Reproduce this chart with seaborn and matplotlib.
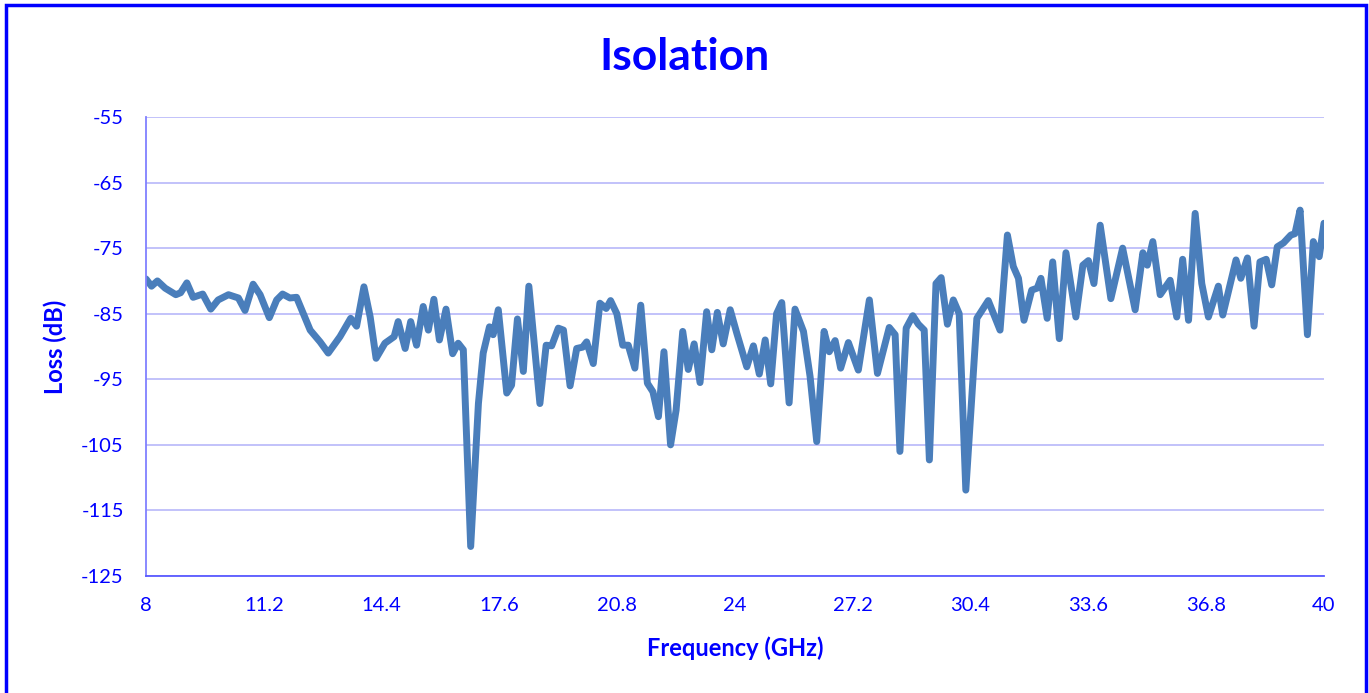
import matplotlib
matplotlib.use("Agg")
import matplotlib.pyplot as plt
from matplotlib.patches import Rectangle
import pandas as pd
import seaborn as sns

# Isolation sweep
freq_ghz = [8.00, 8.15, 8.31, 8.52, 8.81, 8.94, 9.11, 9.28, 9.54, 9.76,
            9.96, 10.24, 10.51, 10.69, 10.91, 11.10, 11.35, 11.55, 11.71, 11.91,
            12.09, 12.46, 12.73, 12.95, 13.27, 13.56, 13.72, 13.92, 14.09, 14.25,
            14.49, 14.74, 14.85, 15.04, 15.19, 15.35, 15.53, 15.67, 15.82, 15.97,
            16.15, 16.33, 16.48, 16.62, 16.82, 17.03, 17.16, 17.33, 17.43, 17.57,
            17.80, 17.93, 18.09, 18.25, 18.40, 18.70, 18.87, 19.02, 19.20, 19.34,
            19.52, 19.70, 19.86, 19.97, 20.15, 20.33, 20.50, 20.62, 20.79, 20.95,
            21.10, 21.28, 21.44, 21.62, 21.77, 21.92, 22.07, 22.25, 22.40, 22.58,
            22.73, 22.89, 23.05, 23.23, 23.37, 23.52, 23.68, 23.87, 24.05, 24.32,
            24.50, 24.66, 24.82, 24.97, 25.13, 25.27, 25.47, 25.63, 25.86, 26.04,
            26.22, 26.42, 26.56, 26.72, 26.87, 27.08, 27.35, 27.65, 27.87, 28.19,
            28.35, 28.48, 28.65, 28.83, 28.98, 29.14, 29.28, 29.46, 29.60, 29.77,
            29.93, 30.09, 30.27, 30.57, 30.88, 31.20, 31.40, 31.56, 31.70, 31.85,
            32.06, 32.21, 32.31, 32.48, 32.63, 32.81, 32.99, 33.26, 33.45, 33.60,
            33.75, 33.92, 34.21, 34.53, 34.87, 35.08, 35.20, 35.35, 35.55, 35.82,
            36.00, 36.16, 36.32, 36.50, 36.68, 36.86, 37.13, 37.25, 37.61, 37.74,
            37.92, 38.10, 38.26, 38.43, 38.58, 38.73, 38.90, 39.10, 39.21, 39.35,
            39.55, 39.71, 39.87, 40.00]
loss_db = [-79.7, -80.8, -80.0, -81.1, -82.1, -81.8, -80.3, -82.5, -82.0, -84.3,
           -82.9, -82.1, -82.6, -84.5, -80.5, -82.1, -85.6, -82.9, -82.0, -82.6,
           -82.5, -87.5, -89.3, -91.0, -88.5, -85.7, -86.9, -80.9, -85.5, -91.8,
           -89.5, -88.5, -86.2, -90.3, -86.2, -89.8, -83.9, -87.5, -82.8, -89.0,
           -84.3, -91.1, -89.5, -90.5, -120.5, -98.7, -91.0, -87.0, -88.2, -84.4,
           -97.1, -95.9, -85.8, -93.8, -80.8, -98.7, -89.8, -89.9, -87.2, -87.5,
           -96.0, -90.3, -90.1, -89.3, -92.6, -83.4, -84.2, -83.0, -85.0, -89.8,
           -89.8, -93.3, -83.7, -95.6, -96.9, -100.7, -90.8, -105.0, -99.7, -87.7,
           -93.5, -89.6, -95.5, -84.7, -90.5, -84.8, -89.6, -84.4, -88.0, -93.1,
           -89.9, -94.2, -89.0, -95.7, -85.0, -83.3, -98.6, -84.3, -87.7, -94.6,
           -104.5, -87.7, -90.8, -89.1, -93.3, -89.4, -93.6, -82.9, -94.1, -87.1,
           -88.2, -106.0, -87.2, -85.3, -86.6, -87.5, -107.3, -80.4, -79.5, -86.6,
           -82.9, -85.0, -111.9, -85.7, -83.0, -87.5, -73.0, -77.8, -79.6, -86.0,
           -81.4, -81.1, -79.6, -85.7, -77.1, -88.8, -75.7, -85.5, -77.6, -76.9,
           -80.4, -71.5, -82.7, -75.0, -84.4, -75.7, -77.6, -74.0, -82.1, -79.9,
           -85.5, -76.7, -86.0, -69.7, -80.4, -85.5, -80.8, -85.2, -76.8, -79.6,
           -76.5, -86.9, -77.1, -76.7, -80.6, -74.8, -74.2, -73.0, -72.8, -69.2,
           -88.2, -74.0, -76.3, -71.2]

x_ticks = [8, 11.2, 14.4, 17.6, 20.8, 24, 27.2, 30.4, 33.6, 36.8, 40]
x_tick_labels = ["8", "11.2", "14.4", "17.6", "20.8", "24", "27.2", "30.4", "33.6", "36.8", "40"]
y_ticks = [-125, -115, -105, -95, -85, -75, -65, -55]

df = pd.DataFrame({"Frequency": freq_ghz, "Loss": loss_db})

sns.set_theme(style="white")
plt.rcParams["font.family"] = ["Lato", "DejaVu Sans"]
plt.rcParams["axes.unicode_minus"] = False

blue = "#0000FF"
fig = plt.figure(figsize=(13.69, 6.93), dpi=100)
ax = fig.add_axes([146 / 1369, 1 - 576 / 693, (1324 - 146) / 1369, (576 - 117) / 693])

sns.lineplot(data=df, x="Frequency", y="Loss", ax=ax, color="#4A7EBB",
             linewidth=5, solid_joinstyle="round", solid_capstyle="round")

ax.set_xlim(8, 40)
ax.set_ylim(-125, -55)
ax.set_xticks(x_ticks)
ax.set_xticklabels(x_tick_labels)
ax.set_yticks(y_ticks)
ax.yaxis.grid(True, color="#BDBDFA", linewidth=1.3)
ax.xaxis.grid(False)
ax.set_axisbelow(True)
for side in ["top", "right"]:
    ax.spines[side].set_visible(False)
ax.spines["left"].set_color("#8080FF")
ax.spines["bottom"].set_color("#5A5AFF")
ax.spines["left"].set_linewidth(1.3)
ax.spines["bottom"].set_linewidth(1.3)
ax.tick_params(axis="both", colors=blue, labelsize=14.5, length=0)
ax.tick_params(axis="x", pad=15)
ax.tick_params(axis="y", pad=16)

ax.set_xlabel("Frequency (GHz)", color=blue, fontsize=17, fontweight="bold", labelpad=16)
ax.set_ylabel("Loss (dB)", color=blue, fontsize=17, fontweight="bold", labelpad=10)
fig.text(0.5, 1 - 57 / 693, "Isolation", color=blue, fontsize=32, fontweight="bold",
         ha="center", va="center")

# outer chart border
fig.patches.append(Rectangle((6 / 1369, -0.05), (1366 - 6) / 1369, 1.05 - 5 / 693,
                             transform=fig.transFigure, fill=False,
                             edgecolor=blue, linewidth=2.5))

fig.savefig("out.png", dpi=100, facecolor="white")
